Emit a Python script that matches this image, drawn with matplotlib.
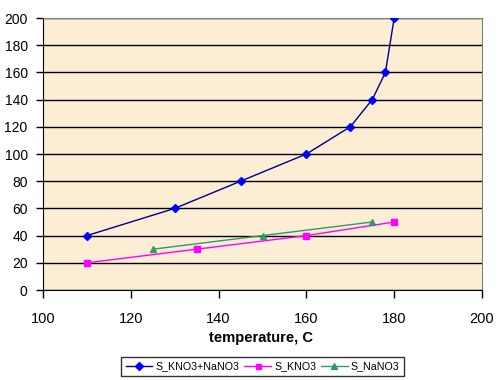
import matplotlib
matplotlib.use('Agg')
import matplotlib.pyplot as plt

plt.rcParams['font.family'] = ['Liberation Sans', 'DejaVu Sans']

# series
t_mix = [110, 130, 145, 160, 170, 175, 178, 180]
s_mix = [40, 60, 80, 100, 120, 140, 160, 200]
t_kno3 = [110, 135, 160, 180]
s_kno3 = [20, 30, 40, 50]
t_nano3 = [125, 150, 175]
s_nano3 = [30, 40, 50]

x_ticks = [100, 120, 140, 160, 180, 200]
y_ticks = [0, 20, 40, 60, 80, 100, 120, 140, 160, 180, 200]

fig = plt.figure(figsize=(4.99, 3.80), dpi=100)
fig.patch.set_facecolor('white')
ax = fig.add_axes([43 / 499, 90 / 380, 439 / 499, 272 / 380])
ax.set_facecolor('#FBEED5')

ax.plot(t_mix, s_mix, color='#000080', lw=1, marker='D', ms=4.5,
        mfc='#0000FF', mec='#0000FF', label='S_KNO3+NaNO3', zorder=3)
ax.plot(t_kno3, s_kno3, color='#FF00FF', lw=1, marker='s', ms=4.5,
        mfc='#FF00FF', mec='#FF00FF', label='S_KNO3', zorder=3)
ax.plot(t_nano3, s_nano3, color='#339966', lw=1, marker='^', ms=5,
        mfc='#339966', mec='#339966', label='S_NaNO3', zorder=3)

ax.set_xlim(100, 200)
ax.set_ylim(0, 200)
ax.set_xticks(x_ticks)
ax.set_yticks(y_ticks)
ax.yaxis.grid(True, color='black', lw=1)
ax.set_axisbelow(True)
ax.tick_params(axis='y', length=5, width=1, pad=6, labelsize=10)
ax.tick_params(axis='x', length=6, width=1, pad=10, labelsize=10.5)

for side in ['left', 'bottom']:
    ax.spines[side].set_color('black')
for side in ['top', 'right']:
    ax.spines[side].set_color('#808080')

fig.text(261 / 499, (380 - 338) / 380, 'temperature, C', ha='center', va='center',
         fontsize=10.6, fontweight='bold')

leg = fig.legend(loc='center', bbox_to_anchor=(262.5 / 499, (380 - 366.5) / 380), ncol=3,
                 fontsize=7.7, frameon=True, fancybox=False, edgecolor='black',
                 handlelength=2.5, columnspacing=0.45, handletextpad=0.3,
                 borderpad=0.45, borderaxespad=0, markerscale=0.8)
leg.get_frame().set_linewidth(1)

fig.savefig('out.png', dpi=100)
